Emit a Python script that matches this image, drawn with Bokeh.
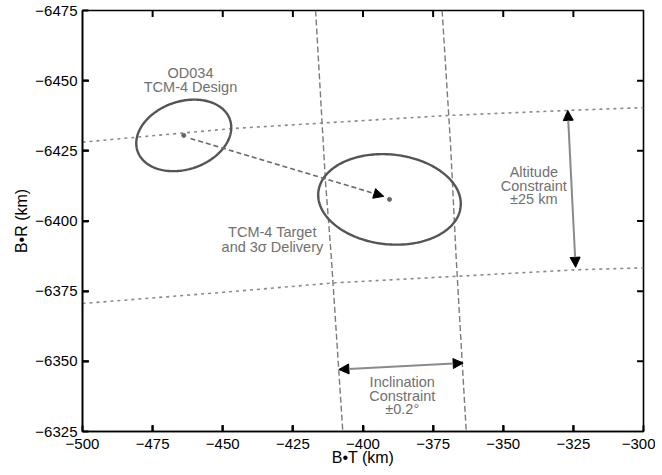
import numpy as np
from bokeh.plotting import figure
from bokeh.models import Range1d, FixedTicker, Arrow, NormalHead
from bokeh.core.properties import value
from bokeh.embed import file_html
from bokeh.resources import INLINE

# ---------------- data ----------------
x_lim = [-500, -300]
y_lim = [-6325, -6475]
x_ticks = [-500, -475, -450, -425, -400, -375, -350, -325, -300]
y_ticks = [-6475, -6450, -6425, -6400, -6375, -6350, -6325]

# altitude constraint lines (B-T, B-R)
alt_upper_bt = [-500.0, -447.2, -414.6, -369.5, -327.0, -300.0]
alt_upper_br = [-6428.1, -6432.9, -6434.9, -6437.6, -6439.4, -6440.4]
alt_lower_bt = [-500.0, -449.8, -411.0, -324.2, -300.0]
alt_lower_br = [-6370.6, -6374.6, -6377.9, -6382.6, -6383.3]

# inclination constraint lines
inc_left_bt = [-416.9, -413.4, -411.3, -407.2]
inc_left_br = [-6475.0, -6414.4, -6387.1, -6325.0]
inc_right_bt = [-371.8, -368.8, -366.8, -363.2]
inc_right_br = [-6475.0, -6427.5, -6387.1, -6325.0]

# error ellipses: center, semi-major, semi-minor, orientation (deg, data frame)
ell_names = ["OD034 TCM-4 Design", "TCM-4 Target"]
ell_center_bt = [-463.9, -390.55]
ell_center_br = [-6430.5, -6407.7]
ell_semi_major = [17.4, 25.5]
ell_semi_minor = [12.1, 16.0]
ell_angle_deg = [-18.7, 5.9]

# arrows
design_arrow_bt = [-461.5, -392.6]
design_arrow_br = [-6429.4, -6408.8]
alt_arrow_bt = [-327.0, -324.2]
alt_arrow_br = [-6439.4, -6383.5]
inc_arrow_bt = [-408.6, -364.3]
inc_arrow_br = [-6347.1, -6349.4]

# annotation text lines
note_text = ["OD034", "TCM-4 Design", "TCM-4 Target", "and 3\u03c3 Delivery",
             "Altitude", "Constraint", "\u00b125 km",
             "Inclination", "Constraint", "\u00b10.2\u00b0"]
note_bt = [-461.5, -461.5, -432.3, -432.3, -339.1, -339.1, -339.1, -386.0, -386.0, -386.0]
note_br = [-6452.9, -6447.6, -6396.0, -6390.7, -6417.6, -6412.5, -6407.7, -6342.6, -6337.8, -6333.1]

FONT = "Liberation Sans"
GRAY_TXT = "#707070"
TICK_LEN = 2.3  # inward tick length in data units (km)

p = figure(frame_width=561, frame_height=421,
           x_range=Range1d(*x_lim), y_range=Range1d(*y_lim),
           output_backend="svg", toolbar_location=None,
           min_border_left=82, min_border_top=10, min_border_right=12, min_border_bottom=30,
           x_axis_label="B\u2022T (km)", y_axis_label="B\u2022R (km)")
p.grid.visible = False
p.outline_line_color = "black"
p.outline_line_width = 1.6
p.background_fill_color = "white"
p.border_fill_color = "white"

def style_axis(ax, ticks):
    ax.ticker = FixedTicker(ticks=ticks)
    ax.major_tick_in = 6
    ax.major_tick_out = 0
    ax.minor_tick_line_color = None
    ax.axis_line_color = "black"
    ax.axis_line_width = 1.6
    ax.major_tick_line_color = "black"
    ax.major_tick_line_width = 2
    ax.major_label_overrides = {t: str(t).replace("-", "\u2212") for t in ticks}
    ax.major_label_text_font = FONT
    ax.major_label_text_font_size = "15px"
    ax.major_label_text_color = "black"
    ax.axis_label_text_font = FONT
    ax.axis_label_text_font_size = "16px"
    ax.axis_label_text_font_style = "normal"
    ax.axis_label_text_color = "black"

style_axis(p.xaxis[0], x_ticks)
p.xaxis[0].major_label_standoff = 7
p.xaxis[0].axis_label_standoff = -3
style_axis(p.yaxis[0], y_ticks)
p.yaxis[0].major_label_standoff = 5
p.yaxis[0].axis_label_standoff = 2

# inward ticks on all four frame edges
xt = np.array(x_ticks[1:-1], dtype=float)
yt = np.array(y_ticks[1:-1], dtype=float)
tick_kw = dict(line_color="black", line_width=2)
p.segment(xt, np.full_like(xt, y_lim[1]), xt, np.full_like(xt, y_lim[1] + TICK_LEN), **tick_kw)
p.segment(xt, np.full_like(xt, y_lim[0]), xt, np.full_like(xt, y_lim[0] - TICK_LEN), **tick_kw)
p.segment(np.full_like(yt, x_lim[1]), yt, np.full_like(yt, x_lim[1] - TICK_LEN), yt, **tick_kw)
p.segment(np.full_like(yt, x_lim[0]), yt, np.full_like(yt, x_lim[0] + TICK_LEN), yt, **tick_kw)

# constraint lines
p.line(alt_upper_bt, alt_upper_br, line_color="#8a8a8a", line_width=1.6, line_dash="3 4")
p.line(alt_lower_bt, alt_lower_br, line_color="#8a8a8a", line_width=1.6, line_dash="3 4")
p.line(inc_left_bt, inc_left_br, line_color="#7a7a7a", line_width=1.4, line_dash="6 3")
p.line(inc_right_bt, inc_right_br, line_color="#7a7a7a", line_width=1.4, line_dash="6 3")

# ellipses
t = np.linspace(0, 2 * np.pi, 240)
for cx, cy, a, b, ang in zip(ell_center_bt, ell_center_br, ell_semi_major, ell_semi_minor, ell_angle_deg):
    th = np.deg2rad(ang)
    ex = cx + a * np.cos(t) * np.cos(th) - b * np.sin(t) * np.sin(th)
    ey = cy + a * np.cos(t) * np.sin(th) + b * np.sin(t) * np.cos(th)
    p.line(ex, ey, line_color="#555555", line_width=2.4)
p.scatter(ell_center_bt, ell_center_br, size=4, color="#666666")

# arrows
def head():
    return NormalHead(size=10, fill_color="black", line_color="black", line_width=1)

p.add_layout(Arrow(end=head(),
                   x_start=design_arrow_bt[0], y_start=design_arrow_br[0],
                   x_end=design_arrow_bt[1], y_end=design_arrow_br[1],
                   line_color="#6a6a6a", line_width=1.6, line_dash="5 3"))
p.add_layout(Arrow(start=head(), end=head(),
                   x_start=alt_arrow_bt[0], y_start=alt_arrow_br[0],
                   x_end=alt_arrow_bt[1], y_end=alt_arrow_br[1],
                   line_color="#8a8a8a", line_width=2))
p.add_layout(Arrow(start=head(), end=head(),
                   x_start=inc_arrow_bt[0], y_start=inc_arrow_br[0],
                   x_end=inc_arrow_bt[1], y_end=inc_arrow_br[1],
                   line_color="#8a8a8a", line_width=2))

# text
p.text(note_bt, note_br, text=note_text, text_font=value(FONT), text_font_size="14.5px",
       text_color=GRAY_TXT, text_align="center", text_baseline="middle")

open("out.html", "w").write(file_html(p, INLINE))
